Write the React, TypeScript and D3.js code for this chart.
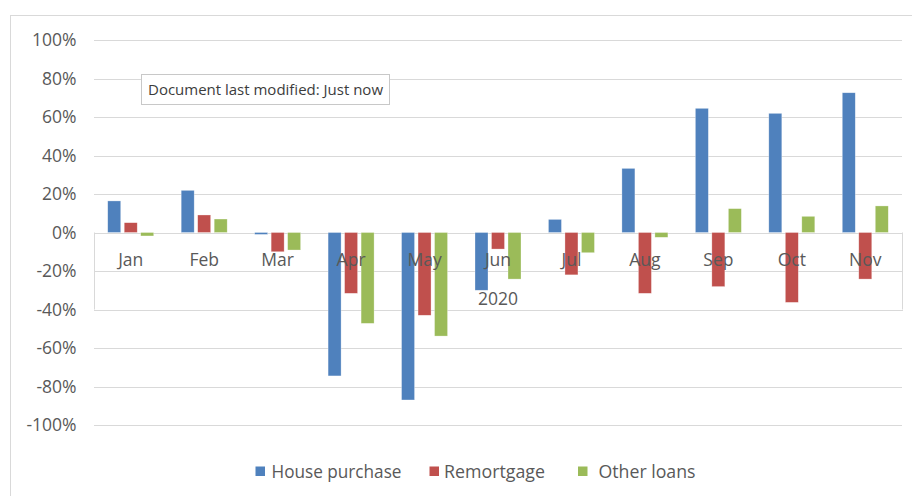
import React from "react";
import * as d3 from "d3";

const months = ["Jan", "Feb", "Mar", "Apr", "May", "Jun", "Jul", "Aug", "Sep", "Oct", "Nov"];
const housePurchase = [16.4, 21.9, -1.0, -74.5, -87.0, -30.0, 6.8, 33.3, 64.5, 61.9, 72.6];
const remortgage = [5.1, 9.1, -10.0, -31.6, -43.0, -8.6, -22.0, -31.6, -28.1, -36.3, -24.2];
const otherLoans = [-1.8, 7.0, -9.1, -47.2, -53.8, -24.2, -10.5, -2.5, 12.4, 8.4, 13.8];
const seriesNames = ["House purchase", "Remortgage", "Other loans"];
const seriesColors = ["#4F81BD", "#C0504D", "#9BBB59"];
const yTicks = [100, 80, 60, 40, 20, 0, -20, -40, -60, -80, -100];
const yearLabel = "2020";
const tooltipText = "Document last modified: Just now";

const W = 912;
const H = 496;
const FONT = "'Open Sans', 'Noto Sans', sans-serif";
const TXT = "#595959";
const GRID = "#d9d9d9";

export default function App() {
  const left = 94;
  const right = 902;
  const y = d3.scaleLinear().domain([-100, 100]).range([425, 40]);
  const x = d3.scaleBand<string>().domain(months).range([left, right]).paddingInner(0).paddingOuter(0);
  const series = [housePurchase, remortgage, otherLoans];
  const barW = 13;
  const step = 16.5;
  const y0 = y(0);
  const yBoxBottom = y(-40);

  const legendItems = [
    { sq: 255.5, tx: 271.5, len: 130 },
    { sq: 429.5, tx: 444, len: 101 },
    { sq: 578, tx: 598.5, len: 97 },
  ];

  return (
    <svg width={W} height={H} style={{ position: "absolute", left: 0, top: 0, display: "block" }}>
      <rect x={0} y={0} width={W} height={H} fill="#fff" />
      <rect x={10.5} y={15.5} width={W + 20} height={H + 20} fill="#fff" stroke={GRID} strokeWidth={1} />
      {yTicks.map((t) => (
        <g key={t}>
          <line x1={left} x2={right} y1={Math.round(y(t)) + 0.5} y2={Math.round(y(t)) + 0.5} stroke={GRID} strokeWidth={1} />
          <text x={76.5} y={y(t)} dy="0.35em" textAnchor="end" fontFamily={FONT} fontSize={17.5} fill={TXT}>
            {t + "%"}
          </text>
        </g>
      ))}
      {/* category axis box */}
      <line x1={left + 0.5} x2={left + 0.5} y1={y0} y2={yBoxBottom} stroke={GRID} strokeWidth={1} />
      <line x1={right + 0.5} x2={right + 0.5} y1={y0} y2={yBoxBottom} stroke={GRID} strokeWidth={1} />
      <line x1={left} x2={right + 1} y1={Math.round(yBoxBottom) + 0.5} y2={Math.round(yBoxBottom) + 0.5} stroke={GRID} strokeWidth={1} />
      {months.map((m, i) => {
        const cx = (x(m) as number) + x.bandwidth() / 2;
        return (
          <g key={m}>
            {series.map((s, j) => {
              const v = s[i];
              const bx = cx + (j - 1) * step - barW / 2;
              const top = Math.min(y(v), y0);
              const h = Math.abs(y(v) - y0);
              return <rect key={j} x={bx} y={top} width={barW} height={h} fill={seriesColors[j]} stroke="#ffffff" strokeOpacity={0.5} strokeWidth={0.6} />;
            })}
          </g>
        );
      })}
      {months.map((m) => {
        const cx = (x(m) as number) + x.bandwidth() / 2;
        return (
          <text key={m} x={cx} y={260} dy="0.35em" textAnchor="middle" fontFamily={FONT} fontSize={17.5} fill={TXT}>
            {m}
          </text>
        );
      })}
      <text x={(left + right) / 2} y={299} dy="0.35em" textAnchor="middle" fontFamily={FONT} fontSize={17.5} fill={TXT}>
        {yearLabel}
      </text>
      {/* tooltip */}
      <rect x={141.5} y={74.5} width={248} height={30} fill="#fff" stroke="#c8c8c8" strokeWidth={1} />
      <text x={148} y={90} dy="0.35em" fontFamily={FONT} fontSize={14.5} fill="#3c3c3c" textLength={235} lengthAdjust="spacingAndGlyphs">
        {tooltipText}
      </text>
      {/* legend */}
      {seriesNames.map((n, i) => (
        <g key={n}>
          <rect x={legendItems[i].sq} y={466.5} width={9.5} height={9.5} fill={seriesColors[i]} />
          <text x={legendItems[i].tx} y={471.5} dy="0.35em" fontFamily={FONT} fontSize={17.5} fill={TXT} textLength={legendItems[i].len} lengthAdjust="spacingAndGlyphs">
            {n}
          </text>
        </g>
      ))}
    </svg>
  );
}
